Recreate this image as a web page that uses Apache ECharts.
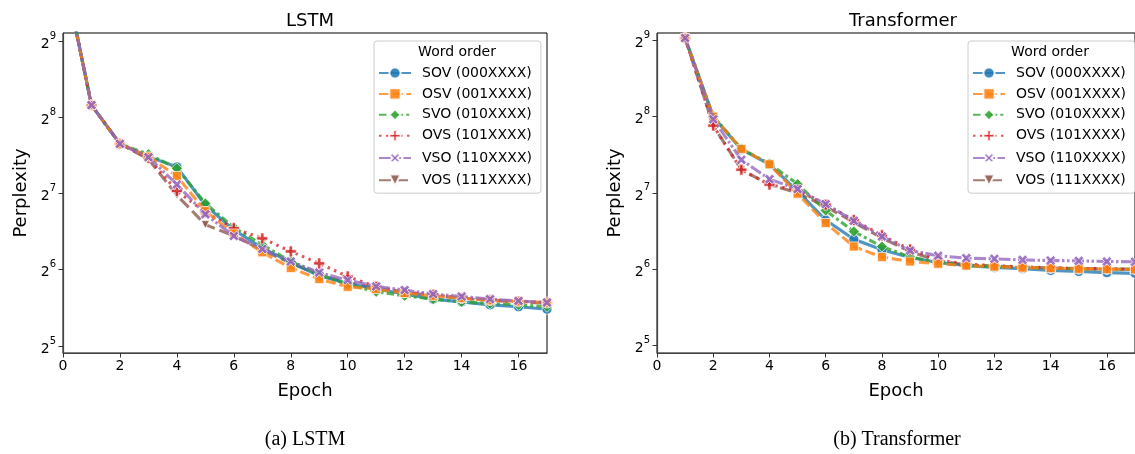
<!DOCTYPE html>
<html>
<head>
<meta charset="utf-8">
<script src="https://cdn.jsdelivr.net/npm/echarts@6/dist/echarts.min.js"></script>
<style>html,body{margin:0;padding:0;background:#fff}#c{width:1135px;height:454px}</style>
</head>
<body>
<div id="c"></div>
<script>
// ---------- data ----------
const orderNames = ['SOV (000XXXX)', 'OSV (001XXXX)', 'SVO (010XXXX)', 'OVS (101XXXX)', 'VSO (110XXXX)', 'VOS (111XXXX)'];
const xTickValues = [0, 2, 4, 6, 8, 10, 12, 14, 16];
const yTickExponents = [5, 6, 7, 8, 9];

const lstmEpochs = [0, 1, 2, 3, 4, 5, 6, 7, 8, 9, 10, 11, 12, 13, 14, 15, 16, 17];
const lstmSOV = [1000, 286, 201, 179, 163, 115, 92, 78, 68.4, 60.6, 56.5, 53.7, 51.3, 49.0, 47.8, 46.5, 45.7, 44.7];
const lstmOSV = [1000, 286, 201, 179, 150, 109, 89, 75, 65, 58.8, 54.8, 53.7, 51.8, 50.5, 49.5, 48.5, 48.0, 47.5];
const lstmSVO = [1000, 286, 201, 183, 161, 117, 94, 80.4, 69, 61.5, 56, 52.4, 50.5, 49.0, 47.8, 47.0, 46.5, 45.7];
const lstmOVS = [1000, 286, 201, 177, 131, 108, 93.3, 85.1, 75.6, 67.8, 60.2, 54.8, 52.2, 51.0, 49.5, 48.6, 48.0, 47.5];
const lstmVSO = [1000, 286, 201, 178, 139, 106, 87, 77.3, 69, 62.4, 58.2, 55.0, 53.2, 51.3, 50.2, 49.0, 48.2, 47.5];
const lstmVOS = [1000, 286, 201, 175, 126, 96.5, 87, 76.5, 68, 61, 57, 54.2, 52.2, 50.6, 49.4, 48.4, 47.8, 47.2];

const transEpochs = [1, 2, 3, 4, 5, 6, 7, 8, 9, 10, 11, 12, 13, 14, 15, 16, 17];
const transSOV = [523, 256, 190, 166, 130, 100, 84, 76.3, 71.1, 68.0, 66.1, 65.0, 64.3, 63.2, 62.6, 62.0, 61.6];
const transOSV = [523, 256, 191, 166, 127, 97.3, 78.6, 71.4, 68.6, 67.2, 66.1, 65.5, 64.9, 64.6, 64.2, 64.0, 63.8];
const transSVO = [523, 257, 191, 167, 138.6, 109, 90.1, 78.6, 71.5, 68, 66.1, 65.5, 64.9, 64.6, 64.2, 64.0, 63.8];
const transOVS = [523, 236, 158, 138, 131, 115, 100, 87, 76.5, 69.5, 67, 66, 65.3, 64.8, 64.4, 64.2, 64.0];
const transVSO = [523, 250, 173, 145, 132.5, 115.6, 99.3, 86.1, 75.8, 72.3, 70.7, 70.3, 69.6, 69.2, 69.0, 68.6, 68.4];
const transVOS = [523, 236, 158, 138, 128, 113, 98, 85, 75, 69, 66.5, 65.8, 65.2, 64.7, 64.3, 64.1, 63.9];

const lstmData = [lstmSOV, lstmOSV, lstmSVO, lstmOVS, lstmVSO, lstmVOS];
const transData = [transSOV, transOSV, transSVO, transOVS, transVSO, transVOS];

// ---------- styles ----------
const colors = ['#1f77b4', '#ff7f0e', '#2ca02c', '#d62728', '#9467bd', '#8c564b'];
const dashes = ['solid', [10, 3.75], [7.5, 3.1, 3, 3.1], [2.5, 4.5], [12, 2.5, 2.5, 2.5, 2.5, 2.5], [12, 5]];
const plusPath = 'path://M-1.2,-4L1.2,-4L1.2,-1.2L4,-1.2L4,1.2L1.2,1.2L1.2,4L-1.2,4L-1.2,1.2L-4,1.2L-4,-1.2L-1.2,-1.2Z';
const symbols = ['circle', 'rect', 'diamond', plusPath, plusPath, 'triangle'];
const symbolRot = [0, 0, 0, 0, 45, 180];
const symbolSizes = [10, 9, 11, 11, 11, 8];
const zOrder = [4, 7, 5, 6, 8, 3];

const FONT = 'DejaVu Sans';

function makeSeries(epochs, dataArr, idx) {
  return dataArr.map((vals, i) => ({
    name: orderNames[i],
    type: 'line',
    xAxisIndex: idx,
    yAxisIndex: idx,
    data: epochs.map((e, k) => [e, vals[k]]),
    symbol: symbols[i],
    symbolRotate: symbolRot[i],
    symbolSize: symbolSizes[i],
    showSymbol: true,
    clip: true,
    lineStyle: { color: colors[i], width: 3.1, type: dashes[i], opacity: 0.78, cap: 'butt' },
    itemStyle: { color: colors[i], borderColor: '#ffffff', borderWidth: 0.8, opacity: 0.88 },
    emphasis: { disabled: true },
    z: zOrder[i]
  }));
}

function yAxis(idx, min, max) {
  return {
    type: 'log', logBase: 2, gridIndex: idx, min: min, max: max,
    name: 'Perplexity', nameLocation: 'middle', nameGap: 33,
    nameTextStyle: { fontFamily: FONT, fontSize: 18, color: '#000' },
    axisLine: { show: true, lineStyle: { color: '#444', width: 1.2 } },
    axisTick: { show: true, length: 4.5, lineStyle: { color: '#333', width: 1 } },
    splitLine: { show: false },
    axisLabel: {
      showMinLabel: false, showMaxLabel: false, margin: 7,
      formatter: v => '{b|2}{s|' + Math.round(Math.log2(v)) + '}',
      rich: {
        b: { fontFamily: FONT, fontSize: 14, color: '#000', verticalAlign: 'bottom', lineHeight: 20 },
        s: { fontFamily: FONT, fontSize: 10, color: '#000', verticalAlign: 'top', lineHeight: 20 }
      }
    }
  };
}

function xAxis(idx) {
  return {
    type: 'value', gridIndex: idx, min: 0, max: 17,
    name: 'Epoch', nameLocation: 'middle', nameGap: 29,
    nameTextStyle: { fontFamily: FONT, fontSize: 18, color: '#000' },
    axisLine: { show: true, onZero: false, lineStyle: { color: '#444', width: 1.2 } },
    axisTick: { show: true, length: 4.5, customValues: xTickValues, lineStyle: { color: '#333', width: 1 } },
    splitLine: { show: false },
    axisLabel: { customValues: xTickValues, fontFamily: FONT, fontSize: 14, color: '#000', margin: 6 }
  };
}

function legend(left) {
  return {
    data: orderNames, orient: 'vertical', left: left, top: 41,
    padding: [24, 9, 5, 4],
    itemWidth: 32, itemHeight: 14, itemGap: 4.9,
    borderColor: '#cccccc', borderWidth: 1, borderRadius: 3, backgroundColor: 'rgba(255,255,255,0.85)',
    selectedMode: false,
    textStyle: { fontFamily: FONT, fontSize: 14, color: '#000', lineHeight: 16, padding: [0, 0, 0, 6] }
  };
}

const chart = echarts.init(document.getElementById('c'), null, { renderer: 'canvas' });
chart.setOption({
  backgroundColor: '#ffffff',
  animation: false,
  title: [
    { text: 'LSTM', left: 305, top: 7, textAlign: 'center', textStyle: { fontFamily: FONT, fontSize: 18, fontWeight: 'normal', color: '#000' } },
    { text: 'Transformer', left: 898, top: 7, textAlign: 'center', textStyle: { fontFamily: FONT, fontSize: 18, fontWeight: 'normal', color: '#000' } }
  ],
  grid: [
    { left: 63, right: 588, top: 33, bottom: 101, show: true, borderColor: '#000', borderWidth: 1, backgroundColor: 'transparent' },
    { left: 657, right: -4, top: 33, bottom: 101, show: true, borderColor: '#000', borderWidth: 1, backgroundColor: 'transparent' }
  ],
  xAxis: [xAxis(0), xAxis(1)],
  yAxis: [yAxis(0, Math.pow(2, 4.908), Math.pow(2, 9.105)), yAxis(1, Math.pow(2, 4.90), Math.pow(2, 9.097))],
  legend: [legend(374), legend(968)],
  series: [].concat(makeSeries(lstmEpochs, lstmData, 0), makeSeries(transEpochs, transData, 1)),
  graphic: [
    { type: 'text', x: 457, y: 52, z: 100, zlevel: 1, style: { text: 'Word order', fontFamily: FONT, fontSize: 14, fill: '#000', align: 'center', verticalAlign: 'middle' } },
    { type: 'text', x: 1050, y: 52, z: 100, zlevel: 1, style: { text: 'Word order', fontFamily: FONT, fontSize: 14, fill: '#000', align: 'center', verticalAlign: 'middle' } },
    { type: 'text', x: 305, y: 440, style: { text: '(a) LSTM', fontFamily: 'Liberation Serif', fontSize: 20, fill: '#000', align: 'center', verticalAlign: 'middle' } },
    { type: 'text', x: 897, y: 440, style: { text: '(b) Transformer', fontFamily: 'Liberation Serif', fontSize: 20, fill: '#000', align: 'center', verticalAlign: 'middle' } }
  ]
});
</script>
</body>
</html>
